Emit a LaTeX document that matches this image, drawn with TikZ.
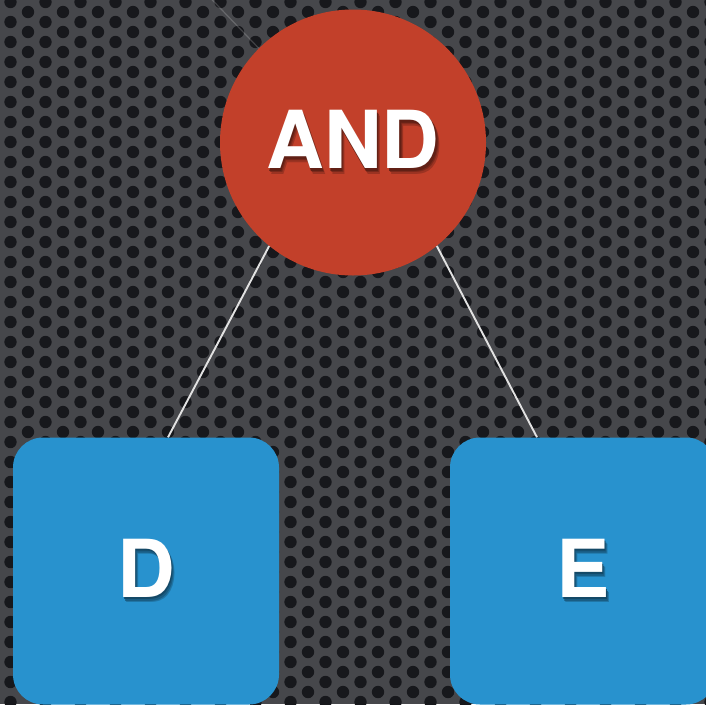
\documentclass[tikz,border=0pt]{standalone}
\usepackage{fontspec}
\setmainfont{TeX Gyre Heros}
\definecolor{plate}{HTML}{46474B}
\definecolor{hole}{HTML}{17181C}
\definecolor{andred}{HTML}{C2402A}
\definecolor{leafblue}{HTML}{2892CE}
\definecolor{wire}{HTML}{E2E2E2}
% a glyph string over three progressively darker, offset copies of itself
\newcommand{\castshadow}[2]{%
  \makebox[0pt][l]{\hspace{3.5pt}\raisebox{-5.5pt}{\color{#1!80!black}#2}}%
  \makebox[0pt][l]{\hspace{2.5pt}\raisebox{-4pt}{\color{#1!64!black}#2}}%
  \makebox[0pt][l]{\hspace{1.5pt}\raisebox{-2.5pt}{\color{#1!50!black}#2}}%
  #2}
\begin{document}
\begin{tikzpicture}[x=1pt,y=-1pt,
  gate/.style={circle, fill=andred, minimum size=266pt, inner sep=0pt},
  leaf/.style={rectangle, rounded corners=30pt, fill=leafblue,
    minimum width=266pt, minimum height=267pt, inner sep=0pt},
  bigtext/.style={font=\fontsize{80}{80}\selectfont\bfseries, text=white, inner sep=0pt},
  wire/.style={draw=wire, line width=1.9pt},
  faintwire/.style={draw=white, line width=1.2pt, opacity=0.18}]
\useasboundingbox (0,0) rectangle (706,704);
\clip (0,0) rectangle (706,704);

% perforated metal plate
\fill[plate] (0,0) rectangle (706,704);
\foreach \i in {0,...,40} {
  \pgfmathsetmacro\yo{mod(\i,2)==0 ? 2 : 12}
  \foreach \j in {-1,...,35}
    \fill[hole] (10.5+17.5*\i, \yo+20*\j) circle (6.2pt);
}

% shapes and connectors
\coordinate (up) at (170,-44);
\node[gate] (and) at (353,142.5) {};
\node[leaf] (D) at (146,571) {};
\node[leaf] (E) at (583,571) {};
\draw[faintwire] (up) -- (and.135);
\draw[wire] (and.231) -- ([xshift=22pt]D.north);
\draw[wire] (and.309) -- ([xshift=-46pt]E.north);

% lettering
\node[bigtext] (andtxt) at (and.center) {\castshadow{andred}{AND}};
\node[bigtext] (Dtxt) at (D.center) {\castshadow{leafblue}{D}};
\node[bigtext] (Etxt) at (E.center) {\castshadow{leafblue}{E}};
\end{tikzpicture}
\end{document}
